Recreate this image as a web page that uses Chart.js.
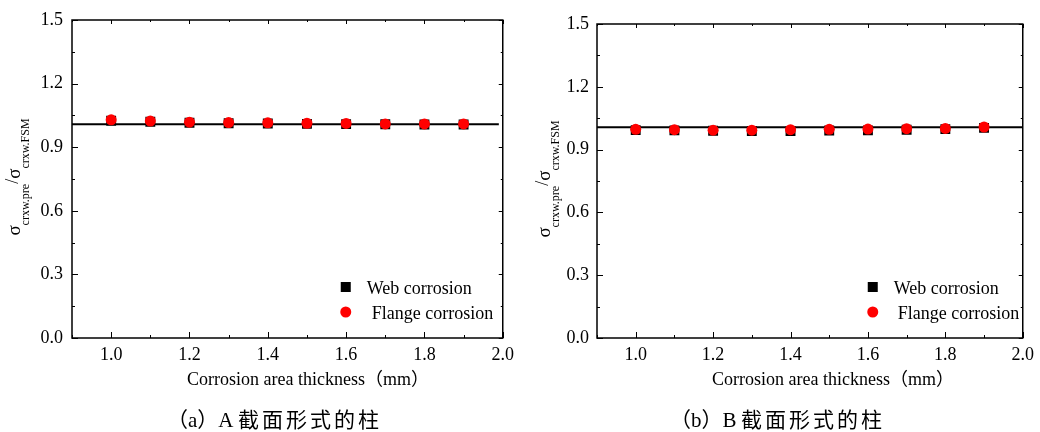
<!DOCTYPE html>
<html>
<head>
<meta charset="utf-8">
<script src="https://cdn.jsdelivr.net/npm/chart.js@4.4.1/dist/chart.umd.min.js"></script>
<style>
  body { margin: 0; background: #fff; }
  .row { display: flex; width: 1040px; height: 432px; }
  canvas { display: block; }
</style>
</head>
<body>
<div class="row">
  <canvas id="cA" width="520" height="432"></canvas>
  <canvas id="cB" width="520" height="432"></canvas>
</div>
<script>
// 腐蚀区厚度 (mm)
const thickness = [1.0, 1.1, 1.2, 1.3, 1.4, 1.5, 1.6, 1.7, 1.8, 1.9];

// (a) A 截面
const webA    = [1.025, 1.020, 1.015, 1.013, 1.012, 1.010, 1.009, 1.008, 1.007, 1.007];
const flangeA = [1.029, 1.023, 1.018, 1.016, 1.015, 1.013, 1.012, 1.010, 1.010, 1.010];
const fitXA = [0.9, 1.99];
const fitYA = [1.008, 1.008];

// (b) B 截面
const webB    = [0.993, 0.992, 0.990, 0.989, 0.989, 0.991, 0.992, 0.995, 0.998, 1.004];
const flangeB = [0.997, 0.995, 0.993, 0.993, 0.995, 0.997, 0.998, 1.000, 1.001, 1.008];
const fitXB = [0.9, 2.0];
const fitYB = [1.007, 1.007];

const yTicks = [0, 0.3, 0.6, 0.9, 1.2, 1.5];
const xLabels = ['1.0', '1.2', '1.4', '1.6', '1.8', '2.0'];
const seriesNames = ['Web corrosion', 'Flange corrosion'];
const xTitle = 'Corrosion area thickness（mm）';

const SERIF = '"Liberation Serif", "Times New Roman", serif';
const CJK = '"Liberation Serif", "Noto Sans CJK SC", sans-serif';

const pts = (xs, ys) => xs.map((x, i) => ({ x, y: ys[i] }));

// 边框、内向刻度、坐标轴标题、图例、图注
const framePlugin = {
  id: 'frame',
  afterDraw(chart, args, o) {
    const { ctx, chartArea: a, scales: { x, y } } = chart;
    ctx.save();
    ctx.strokeStyle = '#000';
    ctx.lineWidth = 1.5;
    ctx.strokeRect(a.left, a.top, a.right - a.left, a.bottom - a.top);

    ctx.lineWidth = 1;
    // y 刻度 (主 0.3, 次 0.15)
    for (let i = 0; i <= 10; i++) {
      const py = Math.round(y.getPixelForValue(i * 0.15)) + 0.5;
      const major = i % 2 === 0;
      ctx.beginPath();
      ctx.moveTo(a.left, py); ctx.lineTo(a.left + (major ? 6 : 3), py);
      ctx.moveTo(a.right, py); ctx.lineTo(a.right - (major ? 4 : 2), py);
      ctx.stroke();
    }
    // x 刻度 (主 0.2, 次 0.1)
    for (let t = 9; t <= 20; t++) {
      const px = Math.round(x.getPixelForValue(t / 10)) + 0.5;
      const major = t % 2 === 0;
      ctx.beginPath();
      ctx.moveTo(px, a.bottom); ctx.lineTo(px, a.bottom - (major ? 6 : 3));
      ctx.moveTo(px, a.top); ctx.lineTo(px, a.top + (major ? 4 : 2));
      ctx.stroke();
    }

    // 图例
    const ds = chart.data.datasets;
    ctx.font = '18px ' + SERIF;
    ctx.textBaseline = 'middle';
    ctx.fillStyle = '#000';
    ctx.fillRect(a.right - o.legX - 5, a.bottom - 51 - 5, 10, 10);
    ctx.fillText(ds[1].label, a.right - o.legText1, a.bottom - 49);
    ctx.fillStyle = '#ff0000';
    ctx.beginPath();
    ctx.arc(a.right - o.legX, a.bottom - 26, 5.5, 0, Math.PI * 2);
    ctx.fill();
    ctx.fillStyle = '#000';
    ctx.fillText(ds[0].label, a.right - o.legText2, a.bottom - 24);

    // x 轴标题
    ctx.font = '18px ' + CJK;
    ctx.textAlign = 'left';
    ctx.fillText(xTitle, a.left + 115, 380);

    // y 轴标题 σcrxw.pre/σcrxw.FSM
    const parts = [
      { t: 'σ', s: 19, dy: 0 },
      { t: 'crxw.pre', s: 12, dy: o.subDy },
      { t: '/', s: 18, dy: -2 },
      { t: 'σ', s: 19, dy: 0 },
      { t: 'crxw.FSM', s: 12, dy: o.subDy }
    ];
    let total = 0;
    parts.forEach(p => { ctx.font = p.s + 'px ' + SERIF; p.w = ctx.measureText(p.t).width; total += p.w; });
    ctx.translate(o.titleX, (a.top + a.bottom) / 2 - 2);
    ctx.rotate(-Math.PI / 2);
    ctx.textBaseline = 'alphabetic';
    let cx = -total / 2;
    parts.forEach(p => { ctx.font = p.s + 'px ' + SERIF; ctx.fillText(p.t, cx, p.dy); cx += p.w; });
    ctx.setTransform(1, 0, 0, 1, 0, 0);

    // 图注
    ctx.textBaseline = 'middle';
    ctx.font = '21px ' + CJK;
    ctx.fillText(o.capHead, o.capX, 421);
    ctx.letterSpacing = '3px';
    ctx.fillText(o.capBody, o.capX + 71, 421);
    ctx.restore();
  }
};

function makeChart(id, web, flange, fitX, fitY, cfg) {
  return new Chart(document.getElementById(id), {
    type: 'scatter',
    data: {
      datasets: [
        {
          label: seriesNames[1], data: pts(thickness, flange), order: 0,
          pointStyle: 'circle', pointRadius: 5.5, backgroundColor: '#ff0000', borderColor: '#ff0000', borderWidth: 0
        },
        {
          label: seriesNames[0], data: pts(thickness, web), order: 1,
          pointStyle: 'rect', pointRadius: 7, backgroundColor: '#000', borderColor: '#000', borderWidth: 0
        },
        {
          type: 'line', label: 'fit', data: pts(fitX, fitY), order: 2,
          showLine: true, borderColor: '#000', borderWidth: 2, pointRadius: 0, fill: false
        }
      ]
    },
    options: {
      responsive: false, animation: false,
      layout: { padding: { left: 0, top: cfg.top, right: 520 - cfg.right, bottom: 0 } },
      plugins: { legend: { display: false }, tooltip: { enabled: false }, frame: cfg },
      scales: {
        x: {
          type: 'linear', min: 0.9, max: 2.0,
          grid: { display: false, drawTicks: false }, border: { display: false },
          afterFit: s => { s.height = 432 - cfg.bottom; },
          ticks: {
            stepSize: 0.1, autoSkip: false, maxRotation: 0, padding: 6, color: '#000',
            font: { family: SERIF, size: 18 },
            callback: v => { const t = Math.round(v * 10); return t % 2 === 0 ? xLabels[(t - 10) / 2] : ''; }
          }
        },
        y: {
          min: 0, max: 1.5,
          grid: { display: false, drawTicks: false }, border: { display: false },
          afterFit: s => { s.width = cfg.left; },
          afterBuildTicks: s => { s.ticks = yTicks.map(v => ({ value: v })); },
          ticks: {
            padding: cfg.yPad, color: '#000', font: { family: SERIF, size: 18 },
            callback: v => v.toFixed(1)
          }
        }
      }
    },
    plugins: [framePlugin]
  });
}

makeChart('cA', webA, flangeA, fitXA, fitYA, {
  left: 72, right: 506, top: 20, bottom: 338, yPad: 9,
  legX: 157, legText1: 136, legText2: 131, titleX: 20, subDy: 9,
  capHead: '（a）A', capBody: '截面形式的柱', capX: 167
});
makeChart('cB', webB, flangeB, fitXB, fitYB, {
  left: 77, right: 506, top: 24, bottom: 338, yPad: 8,
  legX: 150, legText1: 129, legText2: 125, titleX: 30, subDy: 9,
  capHead: '（b）B', capBody: '截面形式的柱', capX: 150
});
</script>
</body>
</html>
